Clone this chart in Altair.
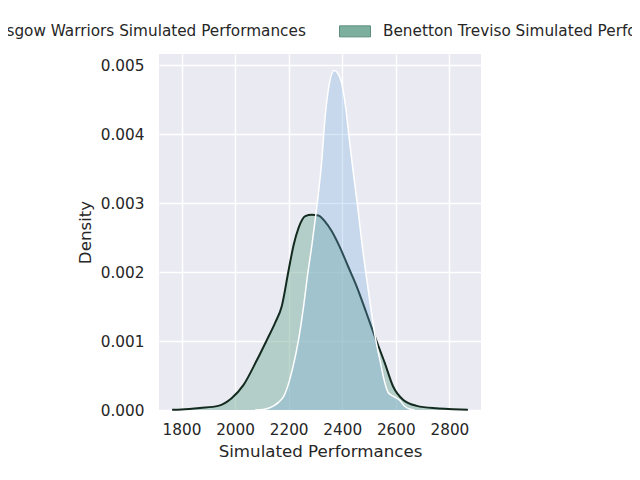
import altair as alt
import pandas as pd

series_names = ["Glasgow Warriors Simulated Performances",
                "Benetton Treviso Simulated Performances"]

glasgow_x = [2075, 2110, 2144, 2162, 2182, 2212, 2237, 2256, 2270, 2286,
             2299, 2311, 2324, 2333, 2348, 2370, 2395, 2414, 2428, 2443,
             2459, 2475, 2490, 2509, 2525, 2541, 2556, 2572, 2590, 2615,
             2634, 2655, 2670]
glasgow_d = [0.0, 0.00001, 0.00006, 0.00011, 0.0002, 0.00056, 0.00102, 0.00151, 0.00194, 0.00237,
             0.00276, 0.00314, 0.00363, 0.00411, 0.00464, 0.00492, 0.00478, 0.00435, 0.00387, 0.00339,
             0.0029, 0.00237, 0.00194, 0.00141, 0.00102, 0.00072, 0.00044, 0.00025, 0.0002, 0.00014,
             0.00005, 0.00001, 0.0]

benetton_x = [1765, 1800, 1869, 1937, 1987, 2031, 2081, 2118, 2149, 2174,
              2200, 2219, 2237, 2262, 2286, 2311, 2336, 2361, 2391, 2422,
              2453, 2490, 2527, 2559, 2590, 2628, 2678, 2752, 2814, 2869]
benetton_d = [0.000003, 0.000008, 0.00003, 0.00006, 0.00017, 0.00036, 0.00072, 0.00101, 0.00126, 0.0015,
              0.00203, 0.0024, 0.00264, 0.00281, 0.00283, 0.00282, 0.00273, 0.00259, 0.00236, 0.00208,
              0.0018, 0.00141, 0.00101, 0.00068, 0.00034, 0.000145, 0.00006, 0.000024, 0.000012, 0.000003]

x_ticks = [1800, 2000, 2200, 2400, 2600, 2800]
y_ticks = [0.0, 0.001, 0.002, 0.003, 0.004, 0.005]

df_g = pd.DataFrame({"x": glasgow_x, "d": glasgow_d, "series": series_names[0]})
df_b = pd.DataFrame({"x": benetton_x, "d": benetton_d, "series": series_names[1]})

x_enc = alt.X("x:Q",
              scale=alt.Scale(domain=[1716, 2918], nice=False, zero=False),
              axis=alt.Axis(values=x_ticks, format="d", title="Simulated Performances",
                            labelPadding=12, titlePadding=6))
y_enc = alt.Y("d:Q",
              scale=alt.Scale(domain=[0, 0.00516], nice=False),
              axis=alt.Axis(values=y_ticks, format=".3f", title="Density",
                            labelPadding=15, titlePadding=6))

color = alt.Color("series:N",
                  scale=alt.Scale(domain=series_names, range=["#70aadd", "#7caf9e"]),
                  legend=alt.Legend(orient="none", direction="horizontal", columns=2,
                                    legendX=-222, legendY=-39, title=None,
                                    labelLimit=1000, labelFont="DejaVu Sans",
                                    labelFontSize=15.28, labelColor="#262626",
                                    labelOffset=12, columnPadding=31, padding=0,
                                    symbolType="M-1,-0.355L1,-0.355L1,0.355L-1,0.355Z",
                                    symbolSize=961, symbolOpacity=1,
                                    symbolStrokeColor="#5e8d7d", symbolStrokeWidth=1))

green_area = alt.Chart(df_b).mark_area(interpolate="monotone", fillOpacity=0.5).encode(
    x=x_enc, y=y_enc, color=color)
green_line = alt.Chart(df_b).mark_line(interpolate="monotone", color="#132a1f", strokeWidth=2).encode(
    x=x_enc, y=y_enc)
blue_area = alt.Chart(df_g).mark_area(interpolate="monotone", fillOpacity=0.28).encode(
    x=x_enc, y=y_enc, color=color)
blue_line = alt.Chart(df_g).mark_line(interpolate="monotone", color="#ffffff", strokeWidth=1.5).encode(
    x=x_enc, y=y_enc)

chart = alt.layer(green_area, green_line, blue_area, blue_line).properties(
    width=322, height=356,
    autosize=alt.AutoSizeParams(type="none"),
    padding={"left": 151, "top": 46, "right": 151, "bottom": 56},
).configure_view(
    fill="#eaeaf2", strokeWidth=0
).configure_axis(
    domain=False, ticks=False, tickSize=0,
    grid=True, gridColor="#ffffff", gridWidth=1.4,
    labelFont="DejaVu Sans", labelFontSize=15.28, labelColor="#262626",
    titleFont="DejaVu Sans", titleFontSize=16.67, titleColor="#262626",
    titleFontWeight="normal"
)

chart.save("out.html", embed_options={"renderer": "svg", "actions": False})
